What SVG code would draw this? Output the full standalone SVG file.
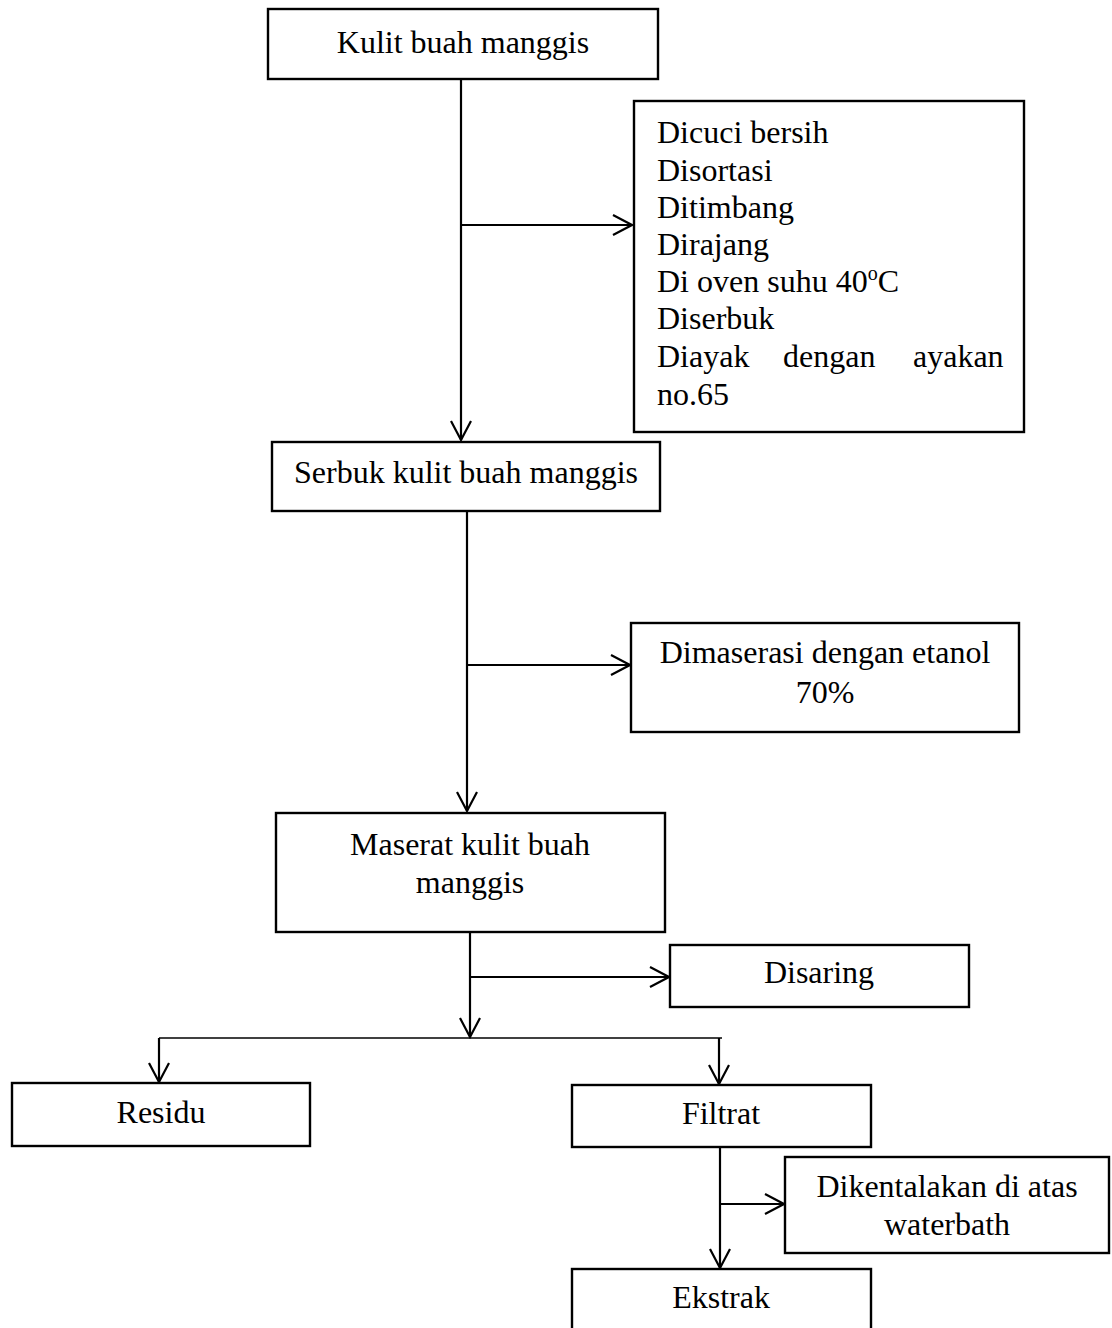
<svg xmlns="http://www.w3.org/2000/svg" width="1112" height="1328" viewBox="0 0 1112 1328">
<style>
.box{fill:#fff;stroke:#000;stroke-width:2.4}
.t{font-family:"Liberation Serif","Times New Roman",serif;font-size:32px;fill:#000}
.c{text-anchor:middle}
.ln{fill:none;stroke:#000;stroke-width:2.2}
.thin{fill:none;stroke:#000;stroke-width:1.5}
</style>
<defs>
<marker id="arr" markerUnits="userSpaceOnUse" viewBox="-22 -12 24 24" refX="0" refY="0" markerWidth="24" markerHeight="24" orient="auto">
<path d="M-19,-10 L0,0 L-19,10" fill="none" stroke="#000" stroke-width="2.2"/>
</marker>
</defs>
<rect width="1112" height="1328" fill="#fff"/>
<g id="connectors">
<line class="ln" x1="461" y1="79" x2="461" y2="440" marker-end="url(#arr)"/>
<line class="ln" x1="461" y1="225" x2="632" y2="225" marker-end="url(#arr)"/>
<line class="ln" x1="467" y1="511" x2="467" y2="811" marker-end="url(#arr)"/>
<line class="ln" x1="467" y1="665" x2="630" y2="665" marker-end="url(#arr)"/>
<line class="ln" x1="470" y1="932" x2="470" y2="1037" marker-end="url(#arr)"/>
<line class="ln" x1="470" y1="977" x2="669" y2="977" marker-end="url(#arr)"/>
<line class="thin" x1="159" y1="1038" x2="722" y2="1038"/>
<line class="ln" x1="159" y1="1038" x2="159" y2="1082" marker-end="url(#arr)"/>
<line class="ln" x1="719" y1="1038" x2="719" y2="1084" marker-end="url(#arr)"/>
<line class="ln" x1="720" y1="1147" x2="720" y2="1268" marker-end="url(#arr)"/>
<line class="ln" x1="720" y1="1204" x2="784" y2="1204" marker-end="url(#arr)"/>
</g>
<g id="kulit">
<rect class="box" x="268" y="9" width="390" height="70"/>
<text class="t c" x="463" y="53">Kulit buah manggis</text>
</g>
<g id="proses1">
<rect class="box" x="634" y="101" width="390" height="331"/>
<text class="t" x="657" y="143">Dicuci bersih</text>
<text class="t" x="657" y="181">Disortasi</text>
<text class="t" x="657" y="218">Ditimbang</text>
<text class="t" x="657" y="255">Dirajang</text>
<text class="t" x="657" y="292">Di oven suhu 40<tspan font-size="20" dy="-12">o</tspan><tspan dy="12">C</tspan></text>
<text class="t" x="657" y="329">Diserbuk</text>
<text class="t" y="367"><tspan x="657">Diayak</tspan><tspan x="783">dengan</tspan><tspan x="913">ayakan</tspan></text>
<text class="t" x="657" y="405">no.65</text>
</g>
<g id="serbuk">
<rect class="box" x="272" y="442" width="388" height="69"/>
<text class="t c" x="466" y="483">Serbuk kulit buah manggis</text>
</g>
<g id="maserasi">
<rect class="box" x="631" y="623" width="388" height="109"/>
<text class="t c" x="825" y="663">Dimaserasi dengan etanol</text>
<text class="t c" x="825" y="703">70%</text>
</g>
<g id="maserat">
<rect class="box" x="276" y="813" width="389" height="119"/>
<text class="t c" x="470" y="855">Maserat kulit buah</text>
<text class="t c" x="470" y="893">manggis</text>
</g>
<g id="disaring">
<rect class="box" x="670" y="945" width="299" height="62"/>
<text class="t c" x="819" y="983">Disaring</text>
</g>
<g id="residu">
<rect class="box" x="12" y="1083" width="298" height="63"/>
<text class="t c" x="161" y="1123">Residu</text>
</g>
<g id="filtrat">
<rect class="box" x="572" y="1085" width="299" height="62"/>
<text class="t c" x="721" y="1124">Filtrat</text>
</g>
<g id="dikentalakan">
<rect class="box" x="785" y="1157" width="324" height="96"/>
<text class="t c" x="947" y="1197">Dikentalakan di atas</text>
<text class="t c" x="947" y="1235">waterbath</text>
</g>
<g id="ekstrak">
<rect class="box" x="572" y="1269" width="299" height="75"/>
<text class="t c" x="721" y="1308">Ekstrak</text>
</g>
</svg>
